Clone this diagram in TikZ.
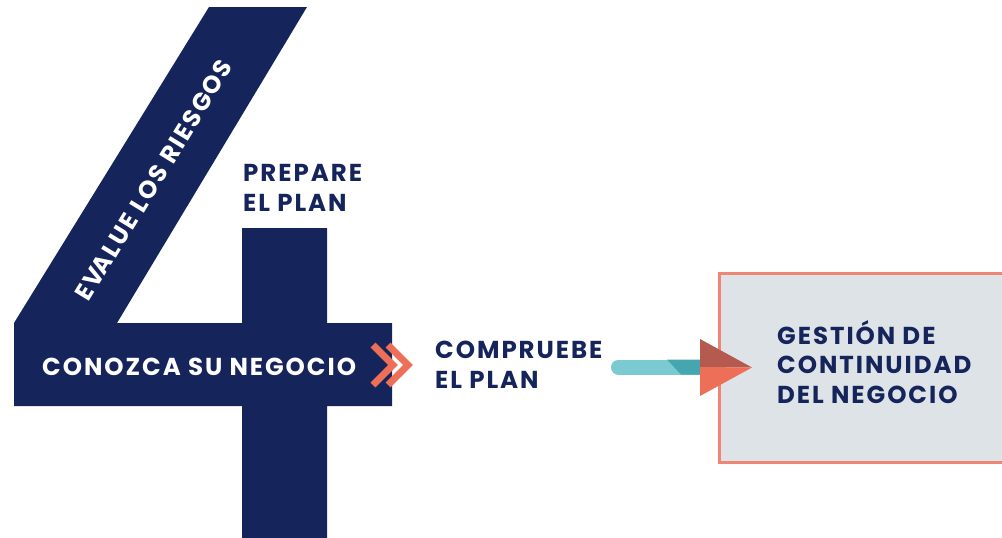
\documentclass[tikz,border=0pt]{standalone}
\usepackage{fontspec}
\setmainfont{Poppins}[LetterSpace=8]
\usetikzlibrary{calc}
\definecolor{navy}{RGB}{21,36,91}
\definecolor{coral}{RGB}{238,111,87}
\definecolor{brick}{RGB}{181,90,79}
\definecolor{lightteal}{RGB}{123,201,209}
\definecolor{darkteal}{RGB}{69,166,175}
\definecolor{boxgray}{RGB}{221,227,231}
\definecolor{boxline}{RGB}{239,134,116}

\begin{document}
\begin{tikzpicture}[x=1pt,y=-1pt]
    % `heading' is used for the navy step labels.
    % `onnavy' is used for the white labels on the big four.
    % `goalbox' is used for the box on the right.
    \tikzstyle{heading} = [font=\bfseries\fontsize{24.5}{29.5}\selectfont,text=navy,align=left,inner sep=0pt]
    \tikzstyle{onnavy} = [font=\bfseries\fontsize{24.5}{29.5}\selectfont,text=white,inner sep=0pt]
    \tikzstyle{goalbox} = [draw=boxline,fill=boxgray,line width=3pt,minimum width=300pt,minimum height=189pt,inner sep=0pt]
    \tikzstyle{chevron} = [draw=coral,line width=7pt,line join=miter]
    %
    \clip (0,0) rectangle (1002,538);
    % Draw the big four.
    \fill[navy] (209,7) -- (307,7) -- (117,323) -- (242,323) -- (242,228)
      -- (327,228) -- (327,323) -- (392,323) -- (392,406) -- (327,406)
      -- (327,538) -- (242,538) -- (242,406) -- (14,406) -- (14,323) -- cycle;
    % Labels (base is the last line).
    \node[onnavy,rotate=58.5] (riesgos) at (154,180) {EV\kern-2.5ptALUE LOS RIESGOS};
    \node[onnavy,anchor=base west] (negocio) at (42,375) {CONOZCA SU NEGOCIO};
    \node[heading,anchor=base west] (prepare) at (243,211) {PREPARE\\EL PLAN};
    \node[heading,anchor=base west] (compruebe) at (435,388) {COMPRUEBE\\EL PLAN};
    % Double chevron.
    \draw[chevron] (373,345) -- (393,365) -- (373,385);
    \draw[chevron] (388,345) -- (408,365) -- (388,385);
    % Goal box.
    \node[goalbox,anchor=west] (gcn) at (718,367.5) {};
    \node[heading,anchor=base west] (gcntext) at (777,403) {GESTIÓN DE\\CONTINUIDAD\\DEL NEGOCIO};
    % Arrow into the box.
    \coordinate (tail) at (611,367);
    \coordinate (neck) at (700,367);
    \coordinate (tip) at ($(gcn.west)+(34,0)$);
    \draw[lightteal,line width=15pt,line cap=round] ($(tail)+(7.5,0)$) -- (neck);
    \fill[darkteal] ($(neck)+(-33,-7.5)$) -- ($(neck)+(0,-7.5)$) -- ($(neck)+(0,7.5)$) -- ($(neck)+(-19,7.5)$) -- cycle;
    \fill[brick] ($(neck)+(0,-28)$) -- (tip) -- (neck) -- cycle;
    \fill[coral] ($(neck)+(0,29)$) -- (tip) -- (neck) -- cycle;
\end{tikzpicture}
\end{document}
